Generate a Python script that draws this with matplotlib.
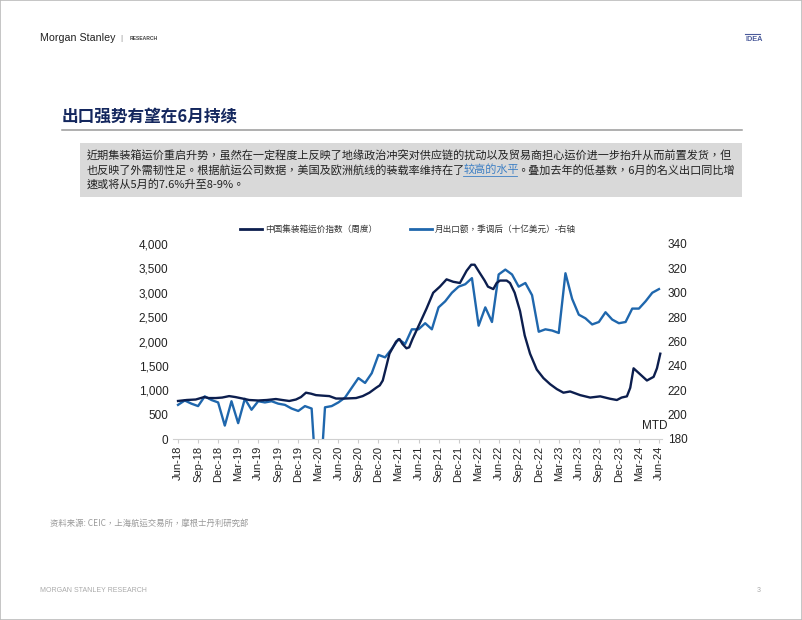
import matplotlib
matplotlib.use("Agg")
import matplotlib.pyplot as plt
from matplotlib.lines import Line2D
from matplotlib.patches import Rectangle

# ---- data ----
# weekly container freight index (left axis), x = months since Jun-18
ccfi_x = [0, 1.3, 2.65, 3.9, 4.6, 5.65, 6.6, 7.65, 8.6, 9.65, 10.65, 12, 13.3, 14.65,
          15.6, 16.65, 17.65, 18.4, 19.15, 19.9, 20.65, 21.6, 22.65, 23.65, 25, 26.65,
          27.65, 28.65, 29.65, 30.2, 30.65, 31.2, 31.65, 32.65, 33.15, 33.6, 34.2, 34.6,
          35.1, 36.2, 37.2, 38.2, 39.2, 40.2, 41.2, 42.2, 43.2, 43.9, 44.4, 45.2, 45.9,
          46.4, 47.2, 47.7, 48.2, 49.2, 49.7, 50.4, 51.2, 51.9, 52.7, 53.7, 54.7, 55.7,
          56.7, 57.7, 58.7, 60.2, 61.7, 63.2, 64.7, 65.7, 66.4, 67.2, 67.7, 68.2, 69.2,
          70.2, 71.2, 71.7, 72.2]
ccfi_v = [780, 800, 810, 860, 840, 840, 850, 880, 860, 830, 800, 790, 800, 820,
          800, 780, 810, 860, 950, 930, 900, 890, 880, 830, 830, 840,
          880, 950, 1050, 1100, 1200, 1500, 1750, 2000, 2050, 1950, 1860, 1880,
          2050, 2375, 2675, 3000, 3125, 3275, 3225, 3200, 3450, 3575, 3575, 3400, 3250,
          3125, 3075, 3200, 3250, 3250, 3200, 3000, 2625, 2125, 1750, 1425, 1250, 1125,
          1025, 950, 975, 900, 850, 875, 825, 800, 850, 875, 1050, 1450, 1325,
          1200, 1275, 1450, 1750]

# monthly exports, seasonally adjusted, bn USD (right axis)
exp_x = list(range(73))
exp_v = [208, 211.6, 209, 207, 215, 212, 210, 191, 211, 193,
         213, 204, 211, 210, 211, 209, 208, 205, 203, 207,
         205, 120, 206, 207, 210, 214, 222, 230, 226, 234,
         249, 247, 254, 262, 258, 270, 270, 275, 270, 288,
         293, 300, 305, 307, 312, 273, 288, 276, 315, 319,
         315, 305, 308, 298, 268, 270, 269, 267, 316, 295,
         282, 279, 274, 276, 284, 278, 275, 276, 287, 287,
         293, 300, 303]

x_ticks = list(range(0, 73, 3))
x_labels = ["Jun-18", "Sep-18", "Dec-18", "Mar-19", "Jun-19", "Sep-19", "Dec-19",
            "Mar-20", "Jun-20", "Sep-20", "Dec-20", "Mar-21", "Jun-21", "Sep-21",
            "Dec-21", "Mar-22", "Jun-22", "Sep-22", "Dec-22", "Mar-23", "Jun-23",
            "Sep-23", "Dec-23", "Mar-24", "Jun-24"]
left_ticks = [0, 500, 1000, 1500, 2000, 2500, 3000, 3500, 4000]
right_ticks = [180, 200, 220, 240, 260, 280, 300, 320, 340]

CJK = ["Noto Sans CJK TC", "DejaVu Sans"]
LAT = ["Liberation Sans", "DejaVu Sans"]
DARK = "#0c1e4e"
LIGHT = "#1f67ad"

W, H = 802, 620
fig = plt.figure(figsize=(W / 100, H / 100), dpi=100)


def fx(x):
    return x / W


def fy(y):
    return 1 - y / H


# page border
fig.patches.append(Rectangle((0, 0), 1, 1, transform=fig.transFigure,
                             fill=False, edgecolor="#bbbbbb", lw=1.2))

# header
fig.text(fx(40), fy(38), "Morgan Stanley", family=LAT,
         fontsize=7.7, color="#222222", va="center")
fig.text(fx(120), fy(38), "|", family=LAT, fontsize=6, color="#888888", va="center")
fig.text(fx(130), fy(38), "RESEARCH", family=LAT, fontsize=3.6, color="#444444",
         va="center", weight="bold")
fig.text(fx(745), fy(39.5), "IDEA", family=LAT,
         fontsize=5.3, color="#4a5a9a", va="center", weight="bold")
fig.add_artist(Line2D([fx(745), fx(760)], [fy(34), fy(34)], color="#4a5a9a", lw=0.8))

# title
fig.text(fx(62), fy(117), "出口强势有望在6月持续", family=CJK, fontsize=12,
         weight="bold", color="#14275e", va="center")
fig.add_artist(Line2D([fx(62), fx(742)], [fy(130), fy(130)], color="#9a9a9a", lw=1.1))

# grey box with text
fig.patches.append(Rectangle((fx(80), fy(197)), fx(742) - fx(80), (197 - 143) / H,
                             transform=fig.transFigure, facecolor="#d9d9d9",
                             edgecolor="none"))
body_kw = dict(family=CJK, fontsize=8.0, color="#222222", va="center")
fig.text(fx(87), fy(156), "近期集装箱运价重启升势，虽然在一定程度上反映了地缘政治冲突对供应链的扰动以及贸易商担心运价进一步抬升从而前置发货，但",
         **body_kw)
renderer = fig.canvas.get_renderer()
t1 = fig.text(fx(87), fy(170), "也反映了外需韧性足。根据航运公司数据，美国及欧洲航线的装载率维持在了", **body_kw)
bb1 = t1.get_window_extent(renderer)
x_link = (bb1.x1 - 2) / fig.bbox.width
t2 = fig.text(x_link, fy(170), "较高的水平", **{**body_kw, "color": "#3d7fc4"})
bb2 = t2.get_window_extent(renderer)
x_after = (bb2.x1 - 2) / fig.bbox.width
fig.add_artist(Line2D([x_link, x_after], [fy(176), fy(176)], color="#3d7fc4", lw=0.6))
fig.text(x_after, fy(170), "。叠加去年的低基数，6月的名义出口同比增", **body_kw)
fig.text(fx(87), fy(184), "速或将从5月的7.6%升至8-9%。", **body_kw)

# legend
fig.add_artist(Line2D([fx(240), fx(262)], [fy(229), fy(229)], color=DARK, lw=2))
fig.text(fx(265), fy(229), "中国集装箱运价指数（周度）", family=CJK, fontsize=6.2,
         color="#333333", va="center")
fig.add_artist(Line2D([fx(410), fx(432)], [fy(229), fy(229)], color=LIGHT, lw=2))
fig.text(fx(435), fy(229), "月出口额，季调后（十亿美元）-右轴", family=CJK, fontsize=6.2,
         color="#333333", va="center")

# main chart
ax = fig.add_axes([fx(172.7), fy(439), (662.3 - 172.7) / W, 195 / H])
ax2 = ax.twinx()
ax.set_zorder(2)
ax.patch.set_visible(False)

ax.plot(ccfi_x, ccfi_v, color=DARK, lw=1.7, zorder=3)
ax2.plot(exp_x, exp_v, color=LIGHT, lw=1.7, zorder=2)

ax.set_xlim(-0.8, 72.5)
ax.set_ylim(0, 4000)
ax2.set_ylim(180, 340)

ax.set_yticks(left_ticks)
ax.set_yticklabels([f"{v:,}" for v in left_ticks], family=LAT, fontsize=8.5, color="#222222")
ax2.set_yticks(right_ticks)
ax2.set_yticklabels([str(v) for v in right_ticks], family=LAT, fontsize=8.5, color="#222222")
ax.set_xticks(x_ticks)
ax.set_xticklabels(x_labels, rotation=90, family=LAT, fontsize=8, color="#222222")

ax.tick_params(axis="y", length=0, pad=3)
ax2.tick_params(axis="y", length=0, pad=4)
ax.tick_params(axis="x", length=3, color="#cccccc", pad=2)

for a in (ax, ax2):
    for s in ("top", "left", "right"):
        a.spines[s].set_visible(False)
    a.spines["bottom"].set_color("#d0d0d0")
ax2.spines["bottom"].set_visible(False)

ax2.text(73.3, 186, "MTD", family=LAT, fontsize=8.5, color="#222222",
         ha="right", va="bottom")

# source and footer
fig.text(fx(50), fy(523), "资料来源: CEIC，上海航运交易所，摩根士丹利研究部", family=CJK,
         fontsize=6, color="#999999", va="center")
fig.text(fx(40), fy(591), "MORGAN STANLEY RESEARCH", family=LAT, fontsize=5,
         color="#aaaaaa", va="center")
fig.text(fx(757), fy(591), "3", family=LAT, fontsize=5, color="#aaaaaa", va="center")

fig.savefig("out.png", dpi=100, facecolor="white")
